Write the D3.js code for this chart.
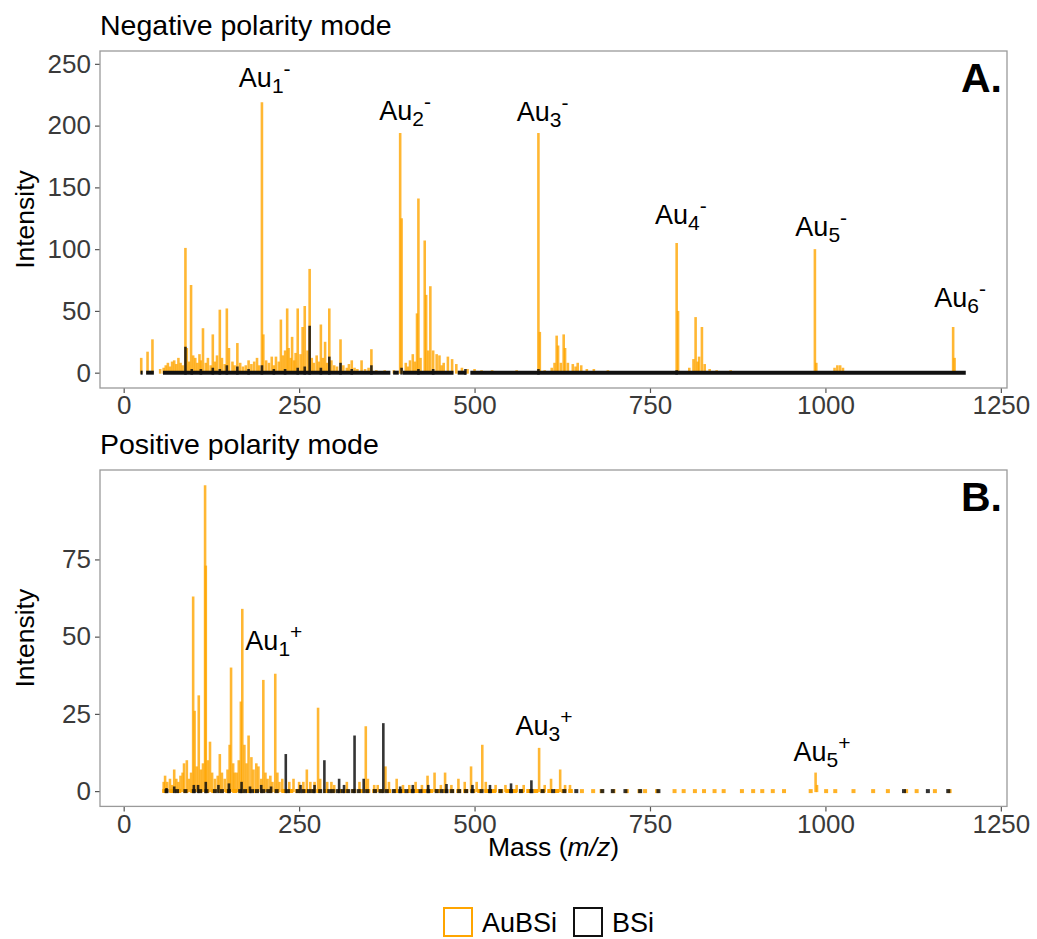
<!DOCTYPE html>
<html>
<head>
<meta charset="utf-8">
<script src="https://d3js.org/d3.v7.min.js"></script>
<style>
  body { margin: 0; background: #fff; }
  svg { font-family: "Liberation Sans", Arial, Helvetica, sans-serif; }
</style>
</head>
<body>
<script>
// ---- data: [mass (m/z), intensity] ----

// negative polarity, AuBSi
const negAuBSi = [
  [25,12],[34,17],[41,27],
  [52,3],[57,4],[60,6],[63,8],[66,5],[69,9],[72,10],[75,7],[78,12],[81,8],[84,6],
  [88,101],[90,20],[93,9],[96,71],[99,14],[102,12],[105,8],[108,15],[110,10],
  [113,36],[117,8],[120,12],[124,6],[127,31],[130,9],[133,14],
  [137,51],[140,12],[144,7],[147,52],[150,20],[155,9],[158,6],
  [162,24],[166,8],[170,5],[174,6],[178,10],[182,7],[186,9],[190,12],[193,6],
  [197,219],[199,31],[203,10],[207,8],[211,13],[214,6],
  [217,13],[221,9],[224,43],[227,14],[230,18],[233,52],[235,20],[238,12],[240,29],[243,10],
  [245,16],[248,52],[252,15],[255,37],[258,54],[262,18],[265,84],[268,12],[271,8],[275,14],
  [278,9],[281,39],[284,12],[287,25],[290,8],[293,52],[296,10],[300,6],[304,5],
  [309,27],[313,6],[318,4],[321,7],[325,10],[329,4],[333,3],[339,10],[344,3],[349,4],[353,19],
  [360,2],[372,2],[385,2],
  [394,194],[396,125],[402,8],[405,5],[408,10],[412,15],[415,9],[418,48],[420,141],[423,12],
  [429,107],[431,63],[434,18],[437,70],[441,18],[446,15],[450,14],[453,6],[456,8],[462,13],
  [468,11],[474,7],[482,4],[490,3],[500,3],[510,2],[525,2],[560,2],
  [591,194],[593,33],[600,2],[610,4],[614,8],[617,30],[619,22],[623,8],[627,31],[629,20],
  [633,8],[640,7],[644,5],[647,8],[652,6],[660,3],[670,3],[690,2],
  [788,105],[790,50],[806,4],[812,11],[815,45],[818,9],[820,13],[824,37],[828,7],[835,3],[845,2],[865,2],
  [985,100],[987,8],[1013,4],[1017,6],[1021,6],[1025,4],
  [1182,37],[1184,12]
];

// negative polarity, BSi
const negBSi = [
  [88,21],[97,3],[110,3],[127,4],[137,3],[147,6],[162,5],[178,3],[197,6],[214,3],[230,3],
  [248,4],[258,5],[265,38],[281,4],[293,13],[309,8],[325,3],[353,6],[396,4],[420,3],
  [441,3],[487,3],[591,3],[788,2]
];
// mass ranges where the BSi trace sits on the zero line
const negBSiBase = [[24,27],[32,43],[56,380],[384,392],[398,470],[476,488],[494,1200]];

// positive polarity, AuBSi
const posAuBSi = [
  [57,3],[59,5],[62,3],[66,4],[69,2],[72,7],[75,4],[78,3],[81,5],[84,6],[86,9],[90,10],[93,4],[96,6],
  [99,63],[101,26],[104,8],[107,31],[110,7],[113,9],
  [116,99],[117,73],[120,10],[123,16],[126,6],[130,4],[134,5],[137,12],[140,6],[144,4],[148,7],
  [151,15],[153,40],[156,9],[158,6],[161,6],[164,10],[167,29],[169,59],[172,15],[175,9],[178,18],
  [182,11],[185,7],[189,9],[192,8],[196,4],
  [199,36],[202,6],[205,4],[209,5],[212,3],[216,38],[219,6],[222,3],[226,4],[236,3],[242,4],[250,3],[256,3],
  [261,7],[266,3],[272,3],[277,27],[280,4],[290,3],[296,3],[300,2],[318,3],[336,3],[345,21],[348,4],
  [357,2],[362,2],[373,8],[378,3],[389,4],[398,2],[407,2],[416,3],[425,2],[433,5],[443,6],[452,2],
  [458,6],[467,2],[477,4],[486,3],[495,8],[503,3],[511,15],[516,3],[530,2],[544,2],[560,2],[570,2],
  [592,14],[600,2],[609,4],[622,7],[629,2],[636,2],
  [986,6],[988,2]
];
const posAuBSiBase = [[55,640]];
const posAuBSiZero = [653,669,681,698,717,735,743,760,785,798,814,827,842,855,881,897,910,925,941,
  979,1001,1014,1040,1068,1089,1115,1130,1156,1177];

// positive polarity, BSi
const posBSi = [
  [61,1],[72,1.5],[100,2],[106,2],[117,3],[135,2],[150,2.5],[168,3],[180,1.5],[196,2],[210,1.5],
  [231,12],[252,2],[272,2],[286,10],[307,4],[314,2],[329,18],[342,4],[370,22],[394,1.5],[412,2],
  [434,2],[460,2.3],[497,2],[522,2],[552,2.5],[581,3.5]
];
const posBSiZero = [61,76,88,100,109,118,130,140,150,166,173,183,190,199,206,218,234,248,256,264,270,
  280,293,298,305,312,320,327,335,347,358,366,375,385,394,403,412,423,434,446,453,460,468,478,488,
  497,510,522,537,552,566,581,597,612,628,645,682,697,715,736,762,1112,1146,1175];

// cluster labels: [n, label centre mass, label baseline intensity]
const negLabels = [[1,201,231.6],[2,401,204.7],[3,597,204],[4,794,120.5],[5,994,110.8],[6,1192,53.4]];
const posLabels = [[1,214,45.7],[3,599,18.1],[5,995,9.7]];

const xTicks = [0,250,500,750,1000,1250];
const negYTicks = [0,50,100,150,200,250];
const posYTicks = [0,25,50,75];

// ---- layout ----
const width = 1037, height = 939;
const ORANGE = '#FFA500';
const left = 100, right = 1007;

const svg = d3.select('body').append('svg')
  .attr('width', width)
  .attr('height', height);

const x = d3.scaleLinear().domain([-33.75, 1258.75]).range([left, right]);

const panels = [
  { title: 'Negative polarity mode', tag: 'A.', top: 51, bottom: 388, ydom: [-12.4, 260.4],
    yticks: negYTicks, au: negAuBSi, bsi: negBSi, bsiBase: negBSiBase, auBase: [], auZero: [], bsiZero: [],
    labels: negLabels, charge: '-' },
  { title: 'Positive polarity mode', tag: 'B.', top: 470, bottom: 806.4, ydom: [-4.95, 103.95],
    yticks: posYTicks, au: posAuBSi, bsi: posBSi, bsiBase: [], auBase: posAuBSiBase,
    auZero: posAuBSiZero, bsiZero: posBSiZero, labels: posLabels, charge: '+' }
];

panels.forEach(p => {
  const y = d3.scaleLinear().domain(p.ydom).range([p.bottom, p.top]);
  const g = svg.append('g');

  // title
  g.append('text')
    .attr('x', left).attr('y', p.top - 16)
    .attr('font-size', 28.5).attr('fill', '#000')
    .text(p.title);

  // axes
  const ax = g.append('g')
    .attr('transform', `translate(0,${p.bottom})`)
    .call(d3.axisBottom(x).tickValues(xTicks).tickFormat(d3.format('d')).tickSize(5).tickPadding(3));
  const ay = g.append('g')
    .attr('transform', `translate(${left},0)`)
    .call(d3.axisLeft(y).tickValues(p.yticks).tickFormat(d3.format('d')).tickSize(5).tickPadding(4));
  [ax, ay].forEach(a => {
    a.select('.domain').remove();
    a.selectAll('.tick line').attr('stroke', '#555').attr('stroke-width', 1.2);
    a.selectAll('.tick text').attr('font-size', 26).attr('fill', '#3a3a3a')
      .attr('font-family', '"Liberation Sans", Arial, sans-serif');
  });

  // y title
  g.append('text')
    .attr('transform', `translate(34,${(p.top + p.bottom) / 2}) rotate(-90)`)
    .attr('text-anchor', 'middle')
    .attr('font-size', 26.5)
    .text('Intensity');

  const plot = g.append('g');

  // AuBSi zero-level trace
  plot.selectAll('line.aubase').data(p.auBase).join('line')
    .attr('x1', d => x(d[0])).attr('x2', d => x(d[1]))
    .attr('y1', y(0)).attr('y2', y(0))
    .attr('stroke', ORANGE).attr('stroke-width', 4)
    .attr('stroke-dasharray', '5,2');
  plot.selectAll('rect.auzero').data(p.auZero).join('rect')
    .attr('x', d => x(d) - 2).attr('y', y(0) - 2)
    .attr('width', 4).attr('height', 4)
    .attr('fill', ORANGE).attr('opacity', 0.85);

  // AuBSi peaks
  plot.selectAll('line.au').data(p.au).join('line')
    .attr('x1', d => x(d[0])).attr('x2', d => x(d[0]))
    .attr('y1', y(0) + 1).attr('y2', d => y(d[1]))
    .attr('stroke', ORANGE).attr('stroke-width', 2.6)
    .attr('stroke-opacity', 0.8);

  // BSi zero-level trace
  plot.selectAll('line.bbase').data(p.bsiBase).join('line')
    .attr('x1', d => x(d[0])).attr('x2', d => x(d[1]))
    .attr('y1', y(0)).attr('y2', y(0))
    .attr('stroke', '#111').attr('stroke-width', 4);
  plot.selectAll('rect.bzero').data(p.bsiZero).join('rect')
    .attr('x', d => x(d) - 2).attr('y', y(0) - 2)
    .attr('width', 4).attr('height', 4)
    .attr('fill', '#111').attr('opacity', 0.85);

  // BSi peaks
  plot.selectAll('line.b').data(p.bsi).join('line')
    .attr('x1', d => x(d[0])).attr('x2', d => x(d[0]))
    .attr('y1', y(0) + 2).attr('y2', d => y(d[1]))
    .attr('stroke', '#111').attr('stroke-width', 2.6)
    .attr('stroke-opacity', 0.85);

  // cluster labels
  p.labels.forEach(l => {
    const t = g.append('text')
      .attr('x', x(l[1])).attr('y', y(l[2]))
      .attr('text-anchor', 'middle')
      .attr('font-size', 27);
    t.append('tspan').text('Au');
    t.append('tspan').attr('font-size', 21).attr('dy', 6).text(l[0]);
    t.append('tspan').attr('font-size', 21).attr('dy', -17).text(p.charge);
  });

  // panel tag
  g.append('text')
    .attr('x', 1002).attr('y', p.top + 41)
    .attr('text-anchor', 'end')
    .attr('font-size', 41).attr('font-weight', 'bold')
    .text(p.tag);

  // border
  g.append('rect')
    .attr('x', left).attr('y', p.top)
    .attr('width', right - left).attr('height', p.bottom - p.top)
    .attr('fill', 'none').attr('stroke', '#9a9a9a').attr('stroke-width', 1.3);
});

// x title
const xt = svg.append('text')
  .attr('x', (left + right) / 2).attr('y', 856)
  .attr('text-anchor', 'middle')
  .attr('font-size', 26.5);
xt.append('tspan').text('Mass (');
xt.append('tspan').attr('font-style', 'italic').text('m/z');
xt.append('tspan').text(')');

// legend
const legend = [['AuBSi', ORANGE, 443], ['BSi', '#111', 573]];
legend.forEach(([name, col, lx]) => {
  svg.append('rect')
    .attr('x', lx + 1).attr('y', 908)
    .attr('width', 28).attr('height', 28)
    .attr('fill', 'none').attr('stroke', col).attr('stroke-width', 2);
  svg.append('text')
    .attr('x', lx + 39).attr('y', 932)
    .attr('font-size', 27)
    .text(name);
});
</script>
</body>
</html>
